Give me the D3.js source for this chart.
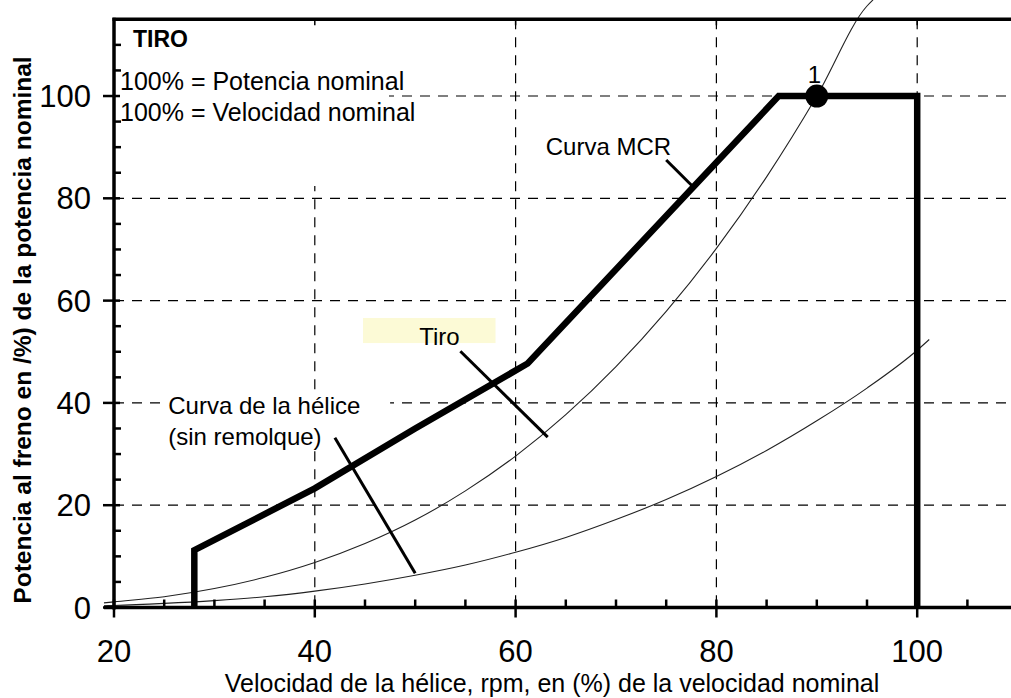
<!DOCTYPE html>
<html>
<head>
<meta charset="utf-8">
<script src="https://cdn.jsdelivr.net/npm/d3@7"></script>
<style>
  body { margin: 0; background: #fff; }
  text { font-family: "Liberation Sans", Arial, sans-serif; fill: #000; }
</style>
</head>
<body>
<div id="chart"></div>
<script>
WIDTH = 1011;
HEIGHT = 698;
LABEL_SIZE = 24;

// Axis ticks
const xTicks = [20, 40, 60, 80, 100];
const yTicks = [0, 20, 40, 60, 80, 100];
const xMinorTicks = [25, 30, 35, 45, 50, 55, 65, 70, 75, 85, 90, 95, 105];
const yMinorTicks = [5, 10, 15, 25, 30, 35, 45, 50, 55, 65, 70, 75, 85, 90, 95, 105, 110];

// Curva MCR (thick line)
const mcrX = [28, 28, 40, 50, 61.2, 86.2, 100, 100];
const mcrY = [0, 11.2, 23.3, 35, 47.7, 100, 100, 0];

// Tiro curve (upper thin curve, through point 1)
const tiroX = [19, 20, 25, 30, 35, 40, 45, 50, 55, 60, 65, 70, 75, 80, 85, 90, 95, 95.6];
const tiroY = [0.9, 1.1, 2.1, 3.7, 5.9, 8.8, 12.5, 17.1, 22.8, 29.6, 37.7, 47.1, 57.9, 70.2, 84.2, 100, 117.6, 118.8];

// Curva de la hélice sin remolque (lower thin curve)
const heliceX = [19, 20, 25, 30, 35, 40, 45, 50, 55, 60, 65, 70, 75, 80, 85, 90, 95, 100, 101.2];
const heliceY = [0.35, 0.4, 0.8, 1.35, 2.1, 3.2, 4.6, 6.3, 8.3, 10.8, 13.7, 17.2, 21.1, 25.6, 30.7, 36.5, 42.9, 50.3, 52.4];

// Point 1
const pointX = [90];
const pointY = [100];

// Labels with pointer lines (data coordinates)
const labelNames = ["Curva MCR", "Tiro", "Curva de la hélice", "(sin remolque)"];
const labelX = [63.0, 50.4, 25.4, 25.4];
const labelY = [88.4, 51.3, 37.8, 31.8];
const pointerX1 = [75.0, 54.5, 42.0];
const pointerY1 = [87.5, 50.1, 33.2];
const pointerX2 = [77.6, 63.2, 50.0];
const pointerY2 = [82.4, 33.3, 6.7];

const svg = d3.select('#chart')
    .append('svg')
    .attr('width', WIDTH)
    .attr('height', HEIGHT);

const x = d3.scaleLinear().domain([20, 110]).range([114, 1017.6]);
const y = d3.scaleLinear().domain([0, 115]).range([607.5, 19.3]);

//////////////////
// Grid (dashed)
const grid = svg.append('g')
    .attr('stroke', '#000')
    .attr('stroke-width', 1.2)
    .attr('stroke-dasharray', '10,8');

grid.selectAll('line.h')
    .data(yTicks.filter(d => d > 0))
    .enter()
    .append('line')
    .attr('class', 'h')
    .attr('x1', x(20))
    .attr('x2', WIDTH)
    .attr('y1', d => y(d))
    .attr('y2', d => y(d));

grid.selectAll('line.v')
    .data(xTicks.filter(d => d > 20))
    .enter()
    .append('line')
    .attr('class', 'v')
    .attr('x1', d => x(d))
    .attr('x2', d => x(d))
    .attr('y1', y(115))
    .attr('y2', y(0));

// White box behind the top-left notes
svg.append('rect')
    .attr('x', 117)
    .attr('y', 21)
    .attr('width', 272)
    .attr('height', 165)
    .attr('fill', '#fff');

// White box behind the hélice label
svg.append('rect')
    .attr('x', x(24.9))
    .attr('y', y(41.8))
    .attr('width', x(47.5) - x(24.9))
    .attr('height', y(31.3) - y(41.8))
    .attr('fill', '#fff');

// Yellow box behind "Tiro"
svg.append('rect')
    .attr('x', x(44.8))
    .attr('y', y(56.6))
    .attr('width', x(58.0) - x(44.8))
    .attr('height', y(51.7) - y(56.6))
    .attr('fill', '#fcfad6');

//////////////////
// Curves
const line = d3.line()
    .x(d => x(d[0]))
    .y(d => y(d[1]));

const curve = d3.line()
    .x(d => x(d[0]))
    .y(d => y(d[1]))
    .curve(d3.curveMonotoneX);

svg.append('path')
    .attr('d', curve(tiroX.map((d, i) => [d, tiroY[i]])))
    .attr('fill', 'none')
    .attr('stroke', '#222')
    .attr('stroke-width', 1.1);

svg.append('path')
    .attr('d', curve(heliceX.map((d, i) => [d, heliceY[i]])))
    .attr('fill', 'none')
    .attr('stroke', '#222')
    .attr('stroke-width', 1.1);

svg.append('path')
    .attr('d', line(mcrX.map((d, i) => [d, mcrY[i]])))
    .attr('fill', 'none')
    .attr('stroke', '#000')
    .attr('stroke-width', 6.5)
    .attr('stroke-linejoin', 'miter');

// Pointer lines
svg.selectAll('line.pointer')
    .data(pointerX1)
    .enter()
    .append('line')
    .attr('class', 'pointer')
    .attr('x1', (d, i) => x(d))
    .attr('y1', (d, i) => y(pointerY1[i]))
    .attr('x2', (d, i) => x(pointerX2[i]))
    .attr('y2', (d, i) => y(pointerY2[i]))
    .attr('stroke', '#000')
    .attr('stroke-width', 3);

svg.selectAll('text.label')
    .data(labelNames)
    .enter()
    .append('text')
    .attr('class', 'label')
    .attr('x', (d, i) => x(labelX[i]))
    .attr('y', (d, i) => y(labelY[i]))
    .text(d => d)
    .style('font-size', `${LABEL_SIZE}px`);

// Point 1
svg.selectAll('circle')
    .data(pointX)
    .enter()
    .append('circle')
    .attr('cx', d => x(d))
    .attr('cy', (d, i) => y(pointY[i]))
    .attr('r', 11.5)
    .attr('fill', '#000');

svg.append('text')
    .attr('x', x(89.1))
    .attr('y', y(102.6))
    .text('1')
    .style('font-size', '24px');

//////////////////
// Axes
const axes = svg.append('g').attr('stroke', '#000');

axes.append('line')
    .attr('x1', x(19))
    .attr('x2', WIDTH)
    .attr('y1', y(0))
    .attr('y2', y(0))
    .attr('stroke-width', 3.5);

axes.append('line')
    .attr('x1', x(20))
    .attr('x2', x(20))
    .attr('y1', y(115) - 1.5)
    .attr('y2', y(0) + 2)
    .attr('stroke-width', 3.5);

axes.append('line')
    .attr('x1', x(20) - 1.5)
    .attr('x2', WIDTH)
    .attr('y1', y(115))
    .attr('y2', y(115))
    .attr('stroke-width', 3.5);

// x ticks
axes.selectAll('line.xmaj')
    .data(xTicks)
    .enter()
    .append('line')
    .attr('class', 'xmaj')
    .attr('x1', d => x(d))
    .attr('x2', d => x(d))
    .attr('y1', y(0) - 8)
    .attr('y2', y(0) + 10)
    .attr('stroke-width', 2.5);

axes.selectAll('line.xmin')
    .data(xMinorTicks)
    .enter()
    .append('line')
    .attr('class', 'xmin')
    .attr('x1', d => x(d))
    .attr('x2', d => x(d))
    .attr('y1', y(0) - 8)
    .attr('y2', y(0))
    .attr('stroke-width', 2.5);

axes.selectAll('line.xtop')
    .data(xTicks.filter(d => d > 20))
    .enter()
    .append('line')
    .attr('class', 'xtop')
    .attr('x1', d => x(d))
    .attr('x2', d => x(d))
    .attr('y1', y(115))
    .attr('y2', y(115) + 6)
    .attr('stroke-width', 1.5);

// y ticks
axes.selectAll('line.ymaj')
    .data(yTicks)
    .enter()
    .append('line')
    .attr('class', 'ymaj')
    .attr('x1', x(20) - 11)
    .attr('x2', x(20) + 6)
    .attr('y1', d => y(d))
    .attr('y2', d => y(d))
    .attr('stroke-width', 2.5);

axes.selectAll('line.ymin')
    .data(yMinorTicks)
    .enter()
    .append('line')
    .attr('class', 'ymin')
    .attr('x1', x(20))
    .attr('x2', x(20) + 7)
    .attr('y1', d => y(d))
    .attr('y2', d => y(d))
    .attr('stroke-width', 2.5);

// Tick labels
svg.selectAll('text.xtick')
    .data(xTicks)
    .enter()
    .append('text')
    .attr('class', 'xtick')
    .attr('x', d => x(d))
    .attr('y', 662)
    .attr('text-anchor', 'middle')
    .text(d => d)
    .style('font-size', '31px');

svg.selectAll('text.ytick')
    .data(yTicks)
    .enter()
    .append('text')
    .attr('class', 'ytick')
    .attr('x', 91)
    .attr('y', d => y(d) + 11)
    .attr('text-anchor', 'end')
    .text(d => d)
    .style('font-size', '31px');

// Axis titles
svg.append('text')
    .attr('x', 552)
    .attr('y', 692)
    .attr('text-anchor', 'middle')
    .text('Velocidad de la hélice, rpm, en (%) de la velocidad nominal')
    .style('font-size', '25px');

svg.append('text')
    .attr('transform', `translate(31, 330) rotate(-90)`)
    .attr('text-anchor', 'middle')
    .text('Potencia al freno en /%) de la potencia nominal')
    .style('font-size', '24.5px')
    .style('font-weight', 'bold');

// Notes in the top-left corner
svg.append('text')
    .attr('x', 133)
    .attr('y', 47)
    .text('TIRO')
    .style('font-size', '23px')
    .style('font-weight', 'bold');

svg.append('text')
    .attr('x', 120)
    .attr('y', 90)
    .text('100% = Potencia nominal')
    .style('font-size', '25px');

svg.append('text')
    .attr('x', 120)
    .attr('y', 121)
    .text('100% = Velocidad nominal')
    .style('font-size', '25px');
</script>
</body>
</html>
